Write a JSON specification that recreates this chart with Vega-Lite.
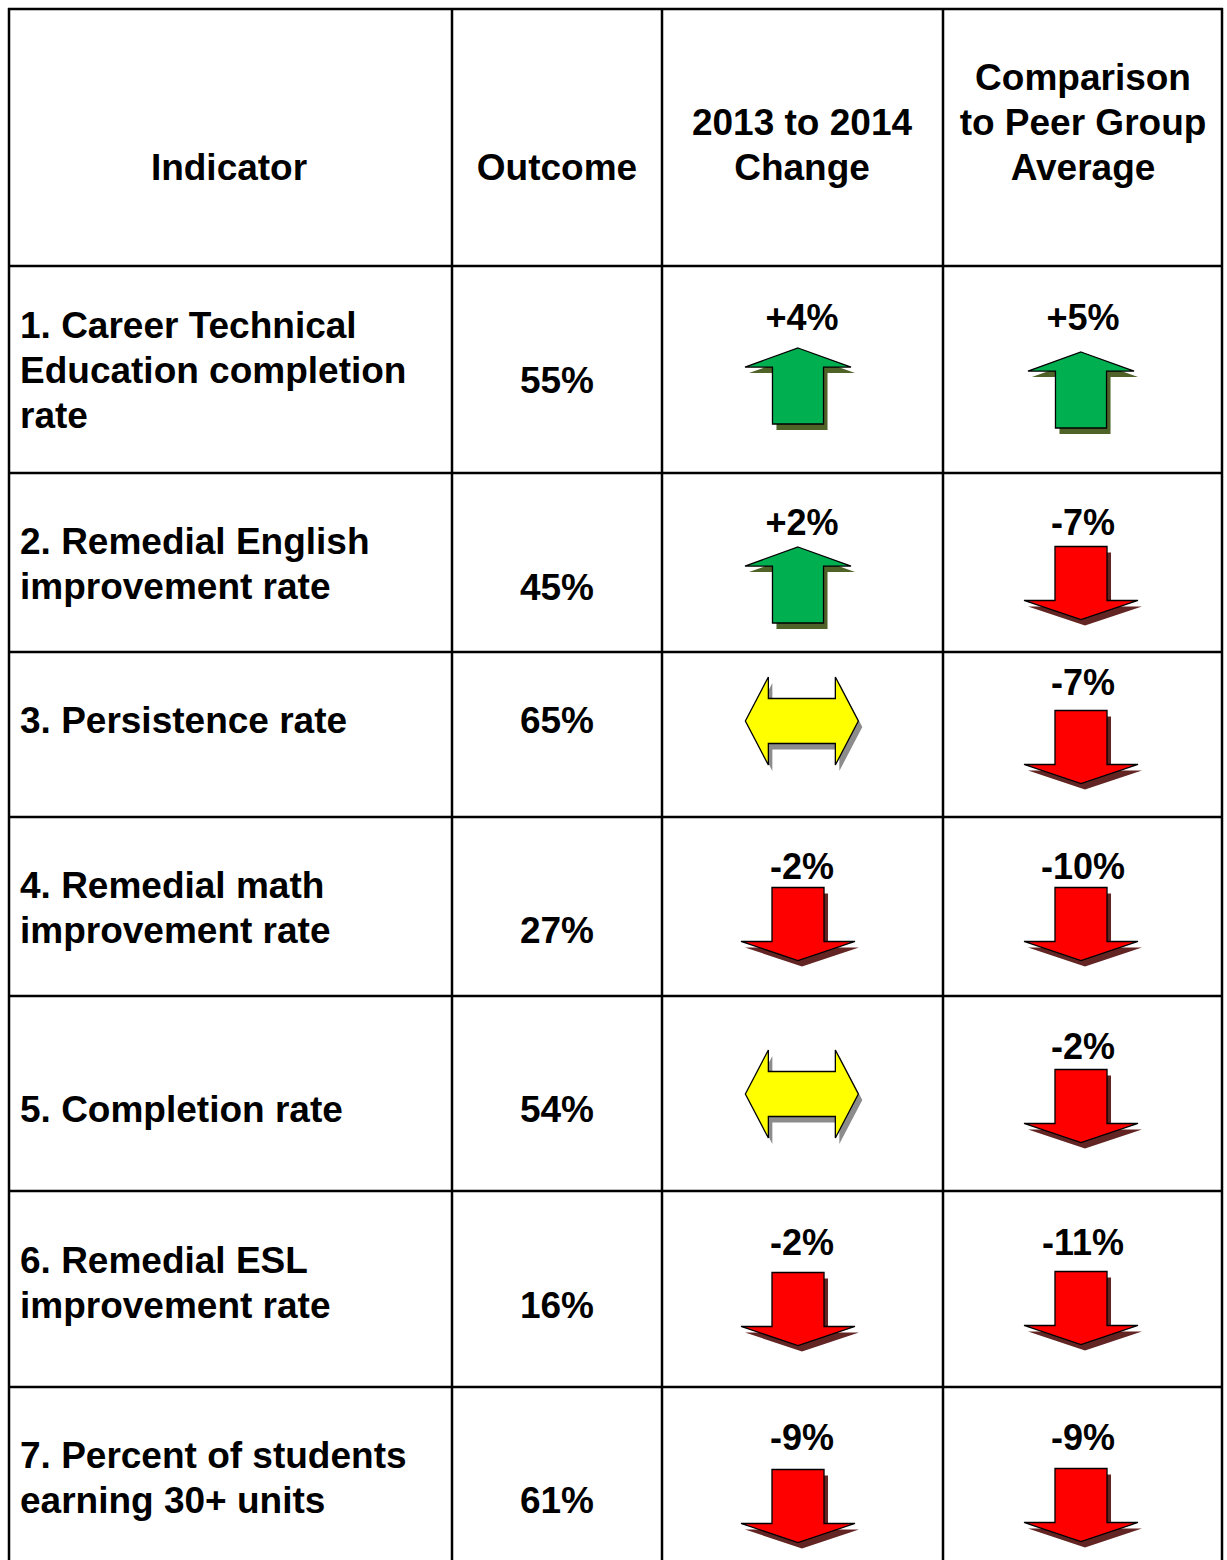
{
  "$schema": "https://vega.github.io/schema/vega-lite/v6.json",
  "width": 1227,
  "height": 1560,
  "padding": 0,
  "autosize": {"type": "none"},
  "background": "white",
  "config": {
    "view": {"stroke": null},
    "text": {"font": "Liberation Sans", "fontWeight": "bold", "color": "black"}
  },
  "datasets": {
    "hedges": [{"edge": 0}, {"edge": 1}, {"edge": 2}, {"edge": 3}, {"edge": 4}, {"edge": 5}, {"edge": 6}, {"edge": 7}],
    "vedges": [{"edge": 0}, {"edge": 1}, {"edge": 2}, {"edge": 3}, {"edge": 4}],
    "header": [
      {"col": 0, "label": "Indicator"},
      {"col": 1, "label": "Outcome"},
      {"col": 2, "label": "2013 to 2014\nChange"},
      {"col": 3, "label": "Comparison\nto Peer Group\nAverage"}
    ],
    "table": [
      {"row": 1, "indicator": "1. Career Technical\nEducation completion\nrate", "outcome": "55%", "change": "+4%", "change_dir": "up", "peer": "+5%", "peer_dir": "up"},
      {"row": 2, "indicator": "2. Remedial English\nimprovement rate", "outcome": "45%", "change": "+2%", "change_dir": "up", "peer": "-7%", "peer_dir": "down"},
      {"row": 3, "indicator": "3. Persistence rate", "outcome": "65%", "change": "", "change_dir": "flat", "peer": "-7%", "peer_dir": "down"},
      {"row": 4, "indicator": "4. Remedial math\nimprovement rate", "outcome": "27%", "change": "-2%", "change_dir": "down", "peer": "-10%", "peer_dir": "down"},
      {"row": 5, "indicator": "5. Completion rate", "outcome": "54%", "change": "", "change_dir": "flat", "peer": "-2%", "peer_dir": "down"},
      {"row": 6, "indicator": "6. Remedial ESL\nimprovement rate", "outcome": "16%", "change": "-2%", "change_dir": "down", "peer": "-11%", "peer_dir": "down"},
      {"row": 7, "indicator": "7. Percent of students\nearning 30+ units", "outcome": "61%", "change": "-9%", "change_dir": "down", "peer": "-9%", "peer_dir": "down"}
    ]
  },
  "resolve": {"scale": {"x": "independent", "y": "independent", "fill": "independent", "shape": "independent"}},
  "layer": [
    {
      "data": {"name": "hedges"},
      "mark": {"type": "rule", "stroke": "black", "strokeWidth": 2.5},
      "encoding": {
        "y": {"field": "edge", "type": "quantitative", "axis": null, "scale": {"domain": [0, 1, 2, 3, 4, 5, 6, 7], "range": [9, 266, 473, 652, 817, 996, 1191, 1387], "nice": false, "zero": false}},
        "x": {"datum": 0, "type": "quantitative", "axis": null, "scale": {"domain": [0, 1], "range": [8, 1223], "nice": false, "zero": false}},
        "x2": {"datum": 1}
      }
    },
    {
      "data": {"name": "vedges"},
      "mark": {"type": "rule", "stroke": "black", "strokeWidth": 2.5},
      "encoding": {
        "x": {"field": "edge", "type": "quantitative", "axis": null, "scale": {"domain": [0, 1, 2, 3, 4], "range": [9, 452, 662, 943, 1222], "nice": false, "zero": false}},
        "y": {"datum": 0, "type": "quantitative", "axis": null, "scale": {"domain": [0, 1], "range": [8, 1560], "nice": false, "zero": false}},
        "y2": {"datum": 1}
      }
    },
    {
      "data": {"name": "header"},
      "mark": {"type": "text", "fontSize": 37, "align": "center", "baseline": "middle", "lineBreak": "\n", "lineHeight": 45},
      "encoding": {
        "text": {"field": "label"},
        "x": {"field": "col", "type": "quantitative", "axis": null, "scale": {"domain": [0, 1, 2, 3], "range": [229, 557, 802, 1083], "nice": false, "zero": false}},
        "y": {"field": "col", "type": "quantitative", "axis": null, "scale": {"domain": [0, 1, 2, 3], "range": [169, 169, 124, 79], "nice": false, "zero": false}}
      }
    },
    {
      "data": {"name": "table"},
      "mark": {"type": "text", "fontSize": 37, "align": "left", "baseline": "middle", "lineBreak": "\n", "lineHeight": 45},
      "encoding": {
        "text": {"field": "indicator"},
        "x": {"datum": 0, "type": "quantitative", "axis": null, "scale": {"domain": [0, 1, 2, 3], "range": [20, 557, 802, 1083], "nice": false, "zero": false}},
        "y": {"field": "row", "type": "quantitative", "axis": null, "scale": {"domain": [1, 2, 3, 4, 5, 6, 7], "range": [327, 543, 722, 887, 1111, 1262, 1457], "nice": false, "zero": false}}
      }
    },
    {
      "data": {"name": "table"},
      "mark": {"type": "text", "fontSize": 37, "align": "center", "baseline": "middle"},
      "encoding": {
        "text": {"field": "outcome"},
        "x": {"datum": 1, "type": "quantitative", "axis": null, "scale": {"domain": [0, 1, 2, 3], "range": [20, 557, 802, 1083], "nice": false, "zero": false}},
        "y": {"field": "row", "type": "quantitative", "axis": null, "scale": {"domain": [1, 2, 3, 4, 5, 6, 7], "range": [382, 589, 722, 932, 1111, 1307, 1502], "nice": false, "zero": false}}
      }
    },
    {
      "data": {"name": "table"},
      "mark": {"type": "text", "fontSize": 36, "align": "center", "baseline": "middle"},
      "encoding": {
        "text": {"field": "change"},
        "x": {"datum": 2, "type": "quantitative", "axis": null, "scale": {"domain": [0, 1, 2, 3], "range": [20, 557, 802, 1083], "nice": false, "zero": false}},
        "y": {"field": "row", "type": "quantitative", "axis": null, "scale": {"domain": [1, 2, 3, 4, 5, 6, 7], "range": [319, 524, 700, 868, 1050, 1244, 1439], "nice": false, "zero": false}}
      }
    },
    {
      "data": {"name": "table"},
      "mark": {"type": "text", "fontSize": 36, "align": "center", "baseline": "middle"},
      "encoding": {
        "text": {"field": "peer"},
        "x": {"datum": 3, "type": "quantitative", "axis": null, "scale": {"domain": [0, 1, 2, 3], "range": [20, 557, 802, 1083], "nice": false, "zero": false}},
        "y": {"field": "row", "type": "quantitative", "axis": null, "scale": {"domain": [1, 2, 3, 4, 5, 6, 7], "range": [319, 524, 684, 868, 1048, 1244, 1439], "nice": false, "zero": false}}
      }
    },
    {
      "data": {"name": "table"},
      "mark": {"type": "point", "filled": true, "size": 12100, "opacity": 1, "strokeWidth": 0, "xOffset": 4, "yOffset": 6},
      "encoding": {
        "x": {"datum": 2, "type": "quantitative", "axis": null, "scale": {"domain": [0, 1, 2, 3], "range": [20, 557, 798, 1081], "nice": false, "zero": false}},
        "y": {"field": "row", "type": "quantitative", "axis": null, "scale": {"domain": [1, 2, 3, 4, 5, 6, 7], "range": [386, 585, 721, 924, 1094, 1309, 1506], "nice": false, "zero": false}},
        "shape": {"field": "change_dir", "type": "nominal", "legend": null, "scale": {"domain": ["up", "down", "flat"], "range": ["M0,-0.691L0.964,-0.345L0.464,-0.345L0.464,0.691L-0.464,0.691L-0.464,-0.345L-0.964,-0.345Z", "M-0.473,-0.664L0.473,-0.664L0.473,0.318L1.036,0.318L0,0.664L-1.036,0.318L-0.473,0.318Z", "M-0.957,0L-0.539,-0.8L-0.539,-0.409L0.679,-0.409L0.679,-0.8L1.097,0L0.679,0.8L0.679,0.409L-0.539,0.409L-0.539,0.8Z"]}},
        "fill": {"field": "change_dir", "type": "nominal", "legend": null, "scale": {"domain": ["up", "down", "flat"], "range": ["#4F6228", "#632523", "#8C8C8C"]}}
      }
    },
    {
      "data": {"name": "table"},
      "mark": {"type": "point", "filled": true, "size": 12100, "opacity": 1, "stroke": "black", "strokeWidth": 1.3},
      "encoding": {
        "x": {"datum": 2, "type": "quantitative", "axis": null, "scale": {"domain": [0, 1, 2, 3], "range": [20, 557, 798, 1081], "nice": false, "zero": false}},
        "y": {"field": "row", "type": "quantitative", "axis": null, "scale": {"domain": [1, 2, 3, 4, 5, 6, 7], "range": [386, 585, 721, 924, 1094, 1309, 1506], "nice": false, "zero": false}},
        "shape": {"field": "change_dir", "type": "nominal", "legend": null, "scale": {"domain": ["up", "down", "flat"], "range": ["M0,-0.691L0.964,-0.345L0.464,-0.345L0.464,0.691L-0.464,0.691L-0.464,-0.345L-0.964,-0.345Z", "M-0.473,-0.664L0.473,-0.664L0.473,0.318L1.036,0.318L0,0.664L-1.036,0.318L-0.473,0.318Z", "M-0.957,0L-0.539,-0.8L-0.539,-0.409L0.679,-0.409L0.679,-0.8L1.097,0L0.679,0.8L0.679,0.409L-0.539,0.409L-0.539,0.8Z"]}},
        "fill": {"field": "change_dir", "type": "nominal", "legend": null, "scale": {"domain": ["up", "down", "flat"], "range": ["#00B050", "#FF0000", "#FFFF00"]}}
      }
    },
    {
      "data": {"name": "table"},
      "mark": {"type": "point", "filled": true, "size": 12100, "opacity": 1, "strokeWidth": 0, "xOffset": 4, "yOffset": 6},
      "encoding": {
        "x": {"datum": 3, "type": "quantitative", "axis": null, "scale": {"domain": [0, 1, 2, 3], "range": [20, 557, 798, 1081], "nice": false, "zero": false}},
        "y": {"field": "row", "type": "quantitative", "axis": null, "scale": {"domain": [1, 2, 3, 4, 5, 6, 7], "range": [390, 583, 747, 924, 1106, 1308, 1505], "nice": false, "zero": false}},
        "shape": {"field": "peer_dir", "type": "nominal", "legend": null, "scale": {"domain": ["up", "down", "flat"], "range": ["M0,-0.691L0.964,-0.345L0.464,-0.345L0.464,0.691L-0.464,0.691L-0.464,-0.345L-0.964,-0.345Z", "M-0.473,-0.664L0.473,-0.664L0.473,0.318L1.036,0.318L0,0.664L-1.036,0.318L-0.473,0.318Z", "M-0.957,0L-0.539,-0.8L-0.539,-0.409L0.679,-0.409L0.679,-0.8L1.097,0L0.679,0.8L0.679,0.409L-0.539,0.409L-0.539,0.8Z"]}},
        "fill": {"field": "peer_dir", "type": "nominal", "legend": null, "scale": {"domain": ["up", "down", "flat"], "range": ["#4F6228", "#632523", "#8C8C8C"]}}
      }
    },
    {
      "data": {"name": "table"},
      "mark": {"type": "point", "filled": true, "size": 12100, "opacity": 1, "stroke": "black", "strokeWidth": 1.3},
      "encoding": {
        "x": {"datum": 3, "type": "quantitative", "axis": null, "scale": {"domain": [0, 1, 2, 3], "range": [20, 557, 798, 1081], "nice": false, "zero": false}},
        "y": {"field": "row", "type": "quantitative", "axis": null, "scale": {"domain": [1, 2, 3, 4, 5, 6, 7], "range": [390, 583, 747, 924, 1106, 1308, 1505], "nice": false, "zero": false}},
        "shape": {"field": "peer_dir", "type": "nominal", "legend": null, "scale": {"domain": ["up", "down", "flat"], "range": ["M0,-0.691L0.964,-0.345L0.464,-0.345L0.464,0.691L-0.464,0.691L-0.464,-0.345L-0.964,-0.345Z", "M-0.473,-0.664L0.473,-0.664L0.473,0.318L1.036,0.318L0,0.664L-1.036,0.318L-0.473,0.318Z", "M-0.957,0L-0.539,-0.8L-0.539,-0.409L0.679,-0.409L0.679,-0.8L1.097,0L0.679,0.8L0.679,0.409L-0.539,0.409L-0.539,0.8Z"]}},
        "fill": {"field": "peer_dir", "type": "nominal", "legend": null, "scale": {"domain": ["up", "down", "flat"], "range": ["#00B050", "#FF0000", "#FFFF00"]}}
      }
    }
  ]
}
